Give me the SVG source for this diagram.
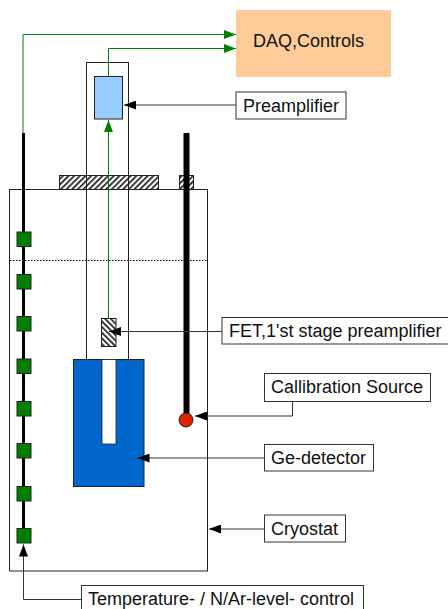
<svg xmlns="http://www.w3.org/2000/svg" width="448" height="609" viewBox="0 0 448 609">
<style>
text{font-family:"Liberation Sans",Arial,sans-serif;font-size:18px;fill:#111}
.lab{fill:#fff;stroke:#333;stroke-width:1}
.con{fill:none;stroke:#333;stroke-width:1}
.grn{fill:none;stroke:#008000;stroke-width:1}
.sq{fill:#008000;stroke:#222;stroke-width:1}
</style>
<defs>
<pattern id="h1" width="4" height="4" patternUnits="userSpaceOnUse" patternTransform="rotate(45)"><rect width="4" height="4" fill="#fff"/><rect width="1.6" height="4" fill="#111"/></pattern>
<pattern id="h2" width="4" height="4" patternUnits="userSpaceOnUse" patternTransform="rotate(-45)"><rect width="4" height="4" fill="#fff"/><rect width="1.6" height="4" fill="#111"/></pattern>
<marker id="ak" markerUnits="userSpaceOnUse" markerWidth="13" markerHeight="9" refX="12" refY="4.500" orient="auto"><path d="M0 0L12 4.500L0 9z" fill="#000"/></marker>
<marker id="ag" markerUnits="userSpaceOnUse" markerWidth="13" markerHeight="9" refX="12" refY="4.500" orient="auto"><path d="M0 0L12 4.500L0 9z" fill="#008000"/></marker>
</defs>
<g id="cryostat"><rect x="9.5" y="189.5" width="198" height="381.5" fill="#fff" stroke="#222"/><line x1="10" y1="260.5" x2="207" y2="260.5" stroke="#000" stroke-dasharray="1.5 1.5"/></g>
<g id="flange"><rect x="59.5" y="175.5" width="99" height="14" fill="url(#h1)" stroke="#222"/><rect x="179.5" y="175.5" width="14" height="14" fill="url(#h1)" stroke="#222"/></g>
<g id="tube"><rect x="86.5" y="62.5" width="42" height="297" fill="none" stroke="#222"/></g>
<g id="preamp"><rect x="94.5" y="76.5" width="28" height="42.5" fill="#99ccff" stroke="#222"/></g>
<g id="fet"><rect x="101.5" y="318.5" width="14.5" height="28" fill="url(#h2)" stroke="#222"/></g>
<g id="detector"><rect x="73.5" y="359.5" width="70.5" height="127" fill="#0066cc" stroke="#222"/><rect x="102" y="359.5" width="14" height="84.5" fill="#fff" stroke="#222" stroke-width="0.8"/></g>
<g id="source"><rect x="183.500" y="133" width="6" height="284" fill="#000"/><circle cx="186" cy="420" r="7" fill="#dd2200" stroke="#222"/></g>
<g id="sensors"><rect x="22" y="133" width="3" height="400" fill="#000"/>
<rect class="sq" x="17" y="232" width="14" height="14.5"/><rect class="sq" x="17" y="274.500" width="14" height="14.500"/><rect class="sq" x="17" y="316.500" width="14" height="14.500"/><rect class="sq" x="17" y="359" width="14" height="14.500"/><rect class="sq" x="17" y="401.500" width="14" height="14.500"/><rect class="sq" x="17" y="443.500" width="14" height="14.500"/><rect class="sq" x="17" y="486.500" width="14" height="14.500"/><rect class="sq" x="17" y="528.500" width="14" height="14.500"/></g>
<g id="connectors">
<path class="grn" d="M23 133V34.500H236" marker-end="url(#ag)"/>
<path class="grn" d="M108.500 76V48.500H236" marker-end="url(#ag)"/>
<path class="grn" d="M108.500 318V120" marker-end="url(#ag)"/>
<path class="con" d="M236 105H124" marker-end="url(#ak)"/>
<path class="con" d="M222 331.500H109" marker-end="url(#ak)"/>
<path class="con" d="M292.500 401.500V416H195" marker-end="url(#ak)"/>
<path class="con" d="M264 458H137.500" marker-end="url(#ak)"/>
<path class="con" d="M264 529H209" marker-end="url(#ak)"/>
<path class="con" d="M81 599.500H23.500V544.500" marker-end="url(#ak)"/>
</g>
<g id="daq"><rect x="236" y="10" width="155" height="67" fill="#ffcc99"/><text x="253" y="47">DAQ,Controls</text></g>
<g id="l-preamp"><rect class="lab" x="236" y="92" width="110" height="27"/><text x="243" y="112">Preamplifier</text></g>
<g id="l-fet"><rect class="lab" x="222" y="317.500" width="228" height="26.500"/><text x="229" y="337">FET,1'st stage preamplifier</text></g>
<g id="l-source"><rect class="lab" x="264.500" y="373.500" width="166" height="28"/><text x="271" y="393">Callibration Source</text></g>
<g id="l-ge"><rect class="lab" x="264.500" y="444.500" width="109" height="26.500"/><text x="271" y="464">Ge-detector</text></g>
<g id="l-cryo"><rect class="lab" x="264.500" y="515" width="81" height="27"/><text x="271" y="535">Cryostat</text></g>
<g id="l-temp"><rect class="lab" x="81.500" y="585.500" width="282" height="30"/><text x="88" y="605">Temperature- / N/Ar-level- control</text></g>
</svg>
